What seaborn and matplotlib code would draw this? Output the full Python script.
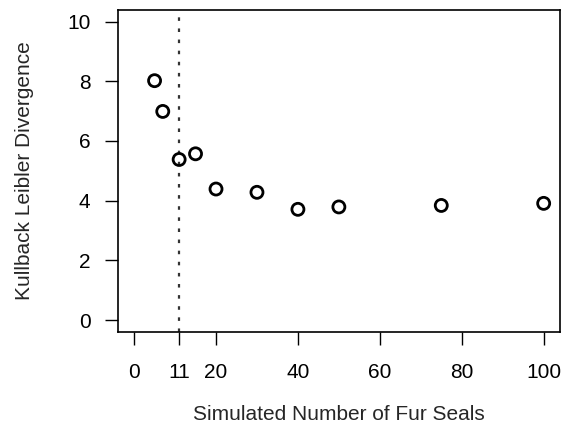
import matplotlib
matplotlib.use("Agg")
import matplotlib.pyplot as plt
import seaborn as sns
import pandas as pd

# Simulated number of fur seals and the resulting KL divergence
n_seals = [5, 7, 11, 15, 20, 30, 40, 50, 75, 100]
kl_div = [8.02, 6.99, 5.38, 5.57, 4.39, 4.28, 3.71, 3.79, 3.84, 3.91]
x_ticks = [0, 11, 20, 40, 60, 80, 100]
y_ticks = [0, 2, 4, 6, 8, 10]
cutoff = 11

df = pd.DataFrame({"n": n_seals, "kl": kl_div})

sns.set_style("ticks")
plt.rcParams["font.family"] = ["Liberation Sans", "DejaVu Sans"]

fig = plt.figure(figsize=(5.64, 4.38), dpi=100)
ax = fig.add_axes([0.2087, 0.242, 0.7843, 0.736])

ax.axvline(cutoff, color="#333333", linestyle=(0, (1.6, 3.4)), linewidth=1.6, zorder=1)
sns.scatterplot(data=df, x="n", y="kl", ax=ax, marker="o", s=75,
                facecolors="none", edgecolor="black", linewidth=2, zorder=3)

ax.set_xlim(-4, 104)
ax.set_ylim(-0.4, 10.4)
ax.set_xticks(x_ticks)
ax.set_yticks(y_ticks)
ax.set_xticklabels([str(t) for t in x_ticks], fontsize=15)
ax.set_yticklabels([str(t) for t in y_ticks], fontsize=15)
ax.tick_params(axis="x", direction="out", length=9.5, width=1, pad=13, colors="black")
ax.tick_params(axis="y", direction="out", length=9.5, width=1, pad=10, colors="black")
for s in ax.spines.values():
    s.set_visible(True)
    s.set_linewidth(1.2)
    s.set_color("black")

ax.set_xlabel("Simulated Number of Fur Seals", fontsize=15)
ax.set_ylabel("Kullback Leibler Divergence", fontsize=15)
ax.xaxis.label.set_va("center")
ax.yaxis.label.set_va("center")
ax.xaxis.set_label_coords(0.5, -0.257)
ax.yaxis.set_label_coords(-0.2096, 0.5)

fig.savefig("out.png", dpi=100)
